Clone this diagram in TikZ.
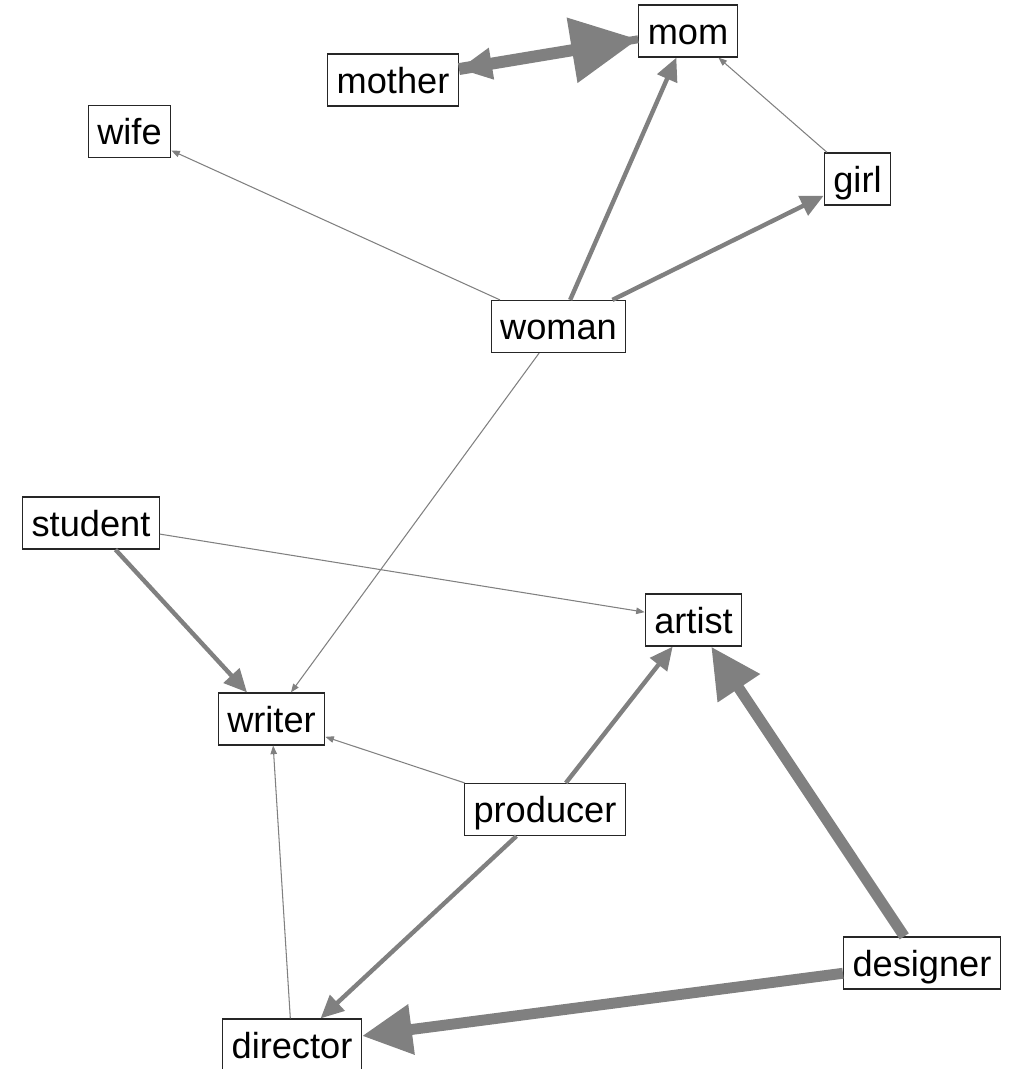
\documentclass[tikz,border=0pt]{standalone}
\usepackage{fontspec}
\setmainfont{Liberation Sans}
\usepackage{tikz}
\usetikzlibrary{arrows.meta}
\usetikzlibrary{positioning}
\tikzset{word/.style={draw=black!85,line width=0.7pt,fill=white,inner xsep=0.18cm,inner ysep=0.1cm,
  text height=0.68cm,text depth=0.16cm,font=\fontsize{20.6pt}{24pt}\selectfont}}
\definecolor{edgegray}{HTML}{808080}

\begin{document}
\begin{tikzpicture}
\tikzstyle{wk} = [draw=edgegray, line width=0.6pt, -{Triangle[length=0.17cm,width=0.13cm]}]
\tikzstyle{md} = [draw=edgegray, line width=2.5pt, -{Triangle[length=0.46cm,width=0.42cm]}]
\tikzstyle{hv} = [draw=edgegray, line width=6.2pt, -{Triangle[length=1.0cm,width=0.96cm]}]
\useasboundingbox (0,0) rectangle (20.26,-21.38);

\node[word](mom) at (13.76, -0.62){mom};
\node[word](mother) at (7.86, -1.60){mother};
\node[word](wife) at (2.59, -2.63){wife};
\node[word](girl) at (17.15, -3.58){girl};
\node[word](woman) at (11.17, -6.53){woman};
\node[word](student) at (1.82, -10.46){student};
\node[word](artist) at (13.87, -12.40){artist};
\node[word](writer) at (5.43, -14.38){writer};
\node[word](producer) at (10.90, -16.19){producer};
\node[word](designer) at (18.44, -19.26){designer};
\node[word](director) at (5.84, -20.90){director};

% mother <-> mom
\draw[draw=edgegray, line width=4.5pt, -{Triangle[length=0.66cm,width=0.6cm]}] (mom) -- (mother);
\draw[draw=edgegray, line width=6.8pt, -{Triangle[length=1.34cm,width=1.26cm]}] (mother) -- (mom);

\draw[md] (woman) -- (mom);
\draw[md] (woman) -- (girl);
\draw[wk] (girl) -- (mom);
\draw[wk] (woman) -- (wife);
\draw[wk] (woman) -- (writer);

\draw[md] (student) -- (writer);
\draw[wk] (student) -- (artist);
\draw[md] (producer) -- (artist);
\draw[wk] (producer) -- (writer);
\draw[md] (producer) -- (director);
\draw[wk] (director) -- (writer);

\draw[hv] (designer) -- (artist);
\draw[hv] (designer) -- (director);
\end{tikzpicture}
\end{document}
